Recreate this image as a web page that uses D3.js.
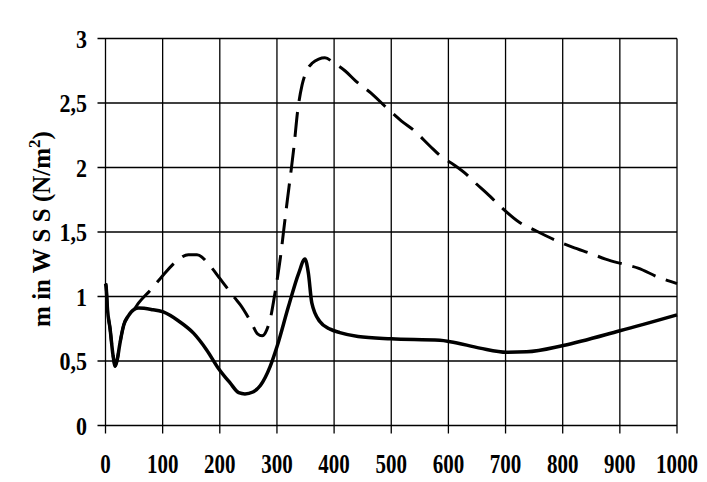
<!DOCTYPE html>
<html>
<head>
<meta charset="utf-8">
<script src="https://cdn.jsdelivr.net/npm/d3@7"></script>
<style>
  body { margin: 0; background: #fff; }
  text { font-family: "Liberation Serif", "Times New Roman", serif; font-weight: bold; fill: #000; }
</style>
</head>
<body>
<div id="chart"></div>
<script>
const xTicks = [0, 100, 200, 300, 400, 500, 600, 700, 800, 900, 1000]
const yTicks = [0, 0.5, 1, 1.5, 2, 2.5, 3]
const yTickLabels = ["0", "0,5", "1", "1,5", "2", "2,5", "3"]

// solid curve
const solidX = [0, 1, 3.5, 8, 13, 17, 21, 25, 32, 40, 50, 58, 80, 101, 128, 154, 177, 198, 218, 233, 244, 258, 271, 288, 300, 320, 338, 349, 355, 361, 375, 393, 410, 442, 500, 585, 603, 655, 702, 737, 801, 900, 1000]
const solidY = [1.1, 1.08, 0.9, 0.75, 0.55, 0.46, 0.52, 0.63, 0.78, 0.85, 0.9, 0.91, 0.9, 0.88, 0.81, 0.716, 0.586, 0.44, 0.33, 0.255, 0.245, 0.26, 0.31, 0.456, 0.61, 0.92, 1.18, 1.29, 1.18, 0.95, 0.806, 0.747, 0.72, 0.69, 0.672, 0.66, 0.65, 0.6, 0.568, 0.571, 0.62, 0.734, 0.858]

// dashed curve
const dashX = [0, 1, 3.5, 8, 13, 17, 21, 25, 32, 40, 50, 58, 78, 96, 125, 145, 160, 183, 200, 227, 236, 256, 266, 274, 282, 290, 294, 300, 306, 312, 318, 324, 330, 336, 344, 352, 362, 373, 384, 400, 419, 438, 469, 489, 518, 539, 568, 586, 610, 632, 641, 673, 692, 724, 747, 792, 817, 851, 875, 907, 932, 967, 1000]
const dashY = [1.1, 1.08, 0.9, 0.75, 0.55, 0.46, 0.52, 0.63, 0.78, 0.85, 0.9, 0.95, 1.047, 1.14, 1.277, 1.324, 1.324, 1.238, 1.14, 0.985, 0.935, 0.79, 0.71, 0.695, 0.74, 0.86, 0.96, 1.12, 1.3, 1.52, 1.74, 1.95, 2.17, 2.43, 2.64, 2.75, 2.81, 2.84, 2.85, 2.81, 2.75, 2.67, 2.56, 2.475, 2.36, 2.29, 2.165, 2.09, 2.02, 1.945, 1.906, 1.776, 1.694, 1.575, 1.523, 1.427, 1.383, 1.33, 1.29, 1.25, 1.22, 1.15, 1.1]

const W = 707, H = 482
const svg = d3.select("#chart").append("svg").attr("width", W).attr("height", H)

const x = d3.scaleLinear().domain([0, 1000]).range([105.5, 677])
const y = d3.scaleLinear().domain([0, 3]).range([425.5, 38.5])

// grid
const grid = svg.append("g").attr("stroke", "#000").attr("stroke-width", 1.3)
grid.selectAll(".vgrid").data(xTicks).join("line")
  .attr("x1", d => x(d)).attr("x2", d => x(d))
  .attr("y1", y(3)).attr("y2", y(0) + 8)
grid.selectAll(".hgrid").data(yTicks).join("line")
  .attr("y1", d => y(d)).attr("y2", d => y(d))
  .attr("x1", x(0) - 8).attr("x2", x(1000))

// tick labels
svg.append("g").selectAll("text").data(xTicks).join("text")
  .attr("text-anchor", "middle")
  .attr("font-size", 21)
  .attr("transform", d => `translate(${x(d)},473) scale(1,1.3)`)
  .text(d => d)

svg.append("g").selectAll("text").data(yTicks).join("text")
  .attr("text-anchor", "end")
  .attr("font-size", 22)
  .attr("transform", d => `translate(87,${y(d) + 9}) scale(1,1.12)`)
  .text((d, i) => yTickLabels[i])

// axis title
const title = svg.append("text")
  .attr("text-anchor", "middle")
  .attr("font-size", 25)
  .attr("transform", "translate(50,229) rotate(-90)")
title.append("tspan").text("m in W S S (N/m")
title.append("tspan").attr("font-size", 17).attr("dy", -10).text("2")
title.append("tspan").attr("dy", 10).text(")")

// curves
const line = d3.line()
  .x(d => x(d[0]))
  .y(d => y(d[1]))
  .curve(d3.curveMonotoneX)

svg.append("path")
  .datum(dashX.map((v, i) => [v, dashY[i]]))
  .attr("fill", "none")
  .attr("stroke", "#000")
  .attr("stroke-width", 3)
  .attr("stroke-dasharray", "25,11")
  .attr("d", line)

svg.append("path")
  .datum(solidX.map((v, i) => [v, solidY[i]]))
  .attr("fill", "none")
  .attr("stroke", "#000")
  .attr("stroke-width", 3.5)
  .attr("d", line)
</script>
</body>
</html>
